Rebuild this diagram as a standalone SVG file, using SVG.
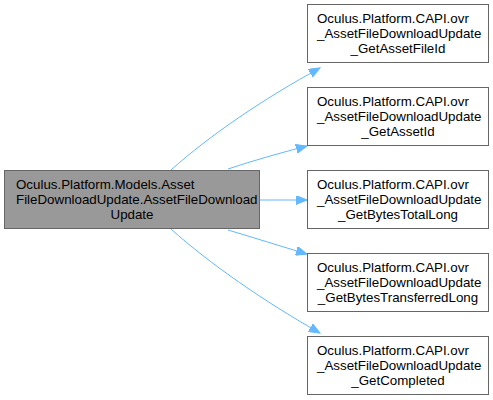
<svg xmlns="http://www.w3.org/2000/svg" width="493" height="400" viewBox="0 0 493 400">
<style>
.n rect{fill:#ffffff;stroke:#666666;stroke-width:1}
#root rect{fill:#999999}
text{font-family:"Liberation Sans",Arial,sans-serif;font-size:13.33px;fill:#000000}
.m{text-anchor:middle}
.e path{fill:none;stroke:#63b8ff;stroke-width:1}
</style>
<defs>
<marker id="a" markerWidth="12" markerHeight="9" refX="11" refY="4.5" orient="auto" markerUnits="userSpaceOnUse">
<path d="M0,0 L11,4.5 L0,9 Z" fill="#63b8ff" stroke="#63b8ff" stroke-width="1"/>
</marker>
</defs>
<rect width="493" height="400" fill="#ffffff"/>
<g class="e" id="edges">
<path d="M171,170 C210,135 265,98 320,68" marker-end="url(#a)"/>
<path d="M228,169 C255,160 280,153 307,146" marker-end="url(#a)"/>
<path d="M260,200 L307,200" marker-end="url(#a)"/>
<path d="M228,230 C255,238 280,246 307,254" marker-end="url(#a)"/>
<path d="M171,229 C210,264 265,302 320,333" marker-end="url(#a)"/>
</g>
<g class="n" id="root">
<rect x="4.5" y="170.5" width="255" height="58"/>
<text x="16" y="189">Oculus.Platform.Models.Asset</text>
<text x="16" y="204">FileDownloadUpdate.AssetFileDownload</text>
<text class="m" x="132" y="219">Update</text>
</g>
<g class="n" id="n1">
<rect x="307.5" y="4.5" width="181" height="58"/>
<text x="317" y="22.5">Oculus.Platform.CAPI.ovr</text>
<text x="317" y="37.5">_AssetFileDownloadUpdate</text>
<text class="m" x="398" y="52.5">_GetAssetFileId</text>
</g>
<g class="n" id="n2">
<rect x="307.5" y="87.5" width="181" height="58"/>
<text x="317" y="105.5">Oculus.Platform.CAPI.ovr</text>
<text x="317" y="120.5">_AssetFileDownloadUpdate</text>
<text class="m" x="398" y="135.5">_GetAssetId</text>
</g>
<g class="n" id="n3">
<rect x="307.5" y="170.5" width="181" height="58"/>
<text x="317" y="188.5">Oculus.Platform.CAPI.ovr</text>
<text x="317" y="203.5">_AssetFileDownloadUpdate</text>
<text class="m" x="398" y="218.5">_GetBytesTotalLong</text>
</g>
<g class="n" id="n4">
<rect x="307.5" y="253.5" width="181" height="58"/>
<text x="317" y="271.5">Oculus.Platform.CAPI.ovr</text>
<text x="317" y="286.5">_AssetFileDownloadUpdate</text>
<text class="m" x="398" y="301.5">_GetBytesTransferredLong</text>
</g>
<g class="n" id="n5">
<rect x="307.5" y="336.5" width="181" height="58"/>
<text x="317" y="354.5">Oculus.Platform.CAPI.ovr</text>
<text x="317" y="369.5">_AssetFileDownloadUpdate</text>
<text class="m" x="398" y="384.5">_GetCompleted</text>
</g>
</svg>
